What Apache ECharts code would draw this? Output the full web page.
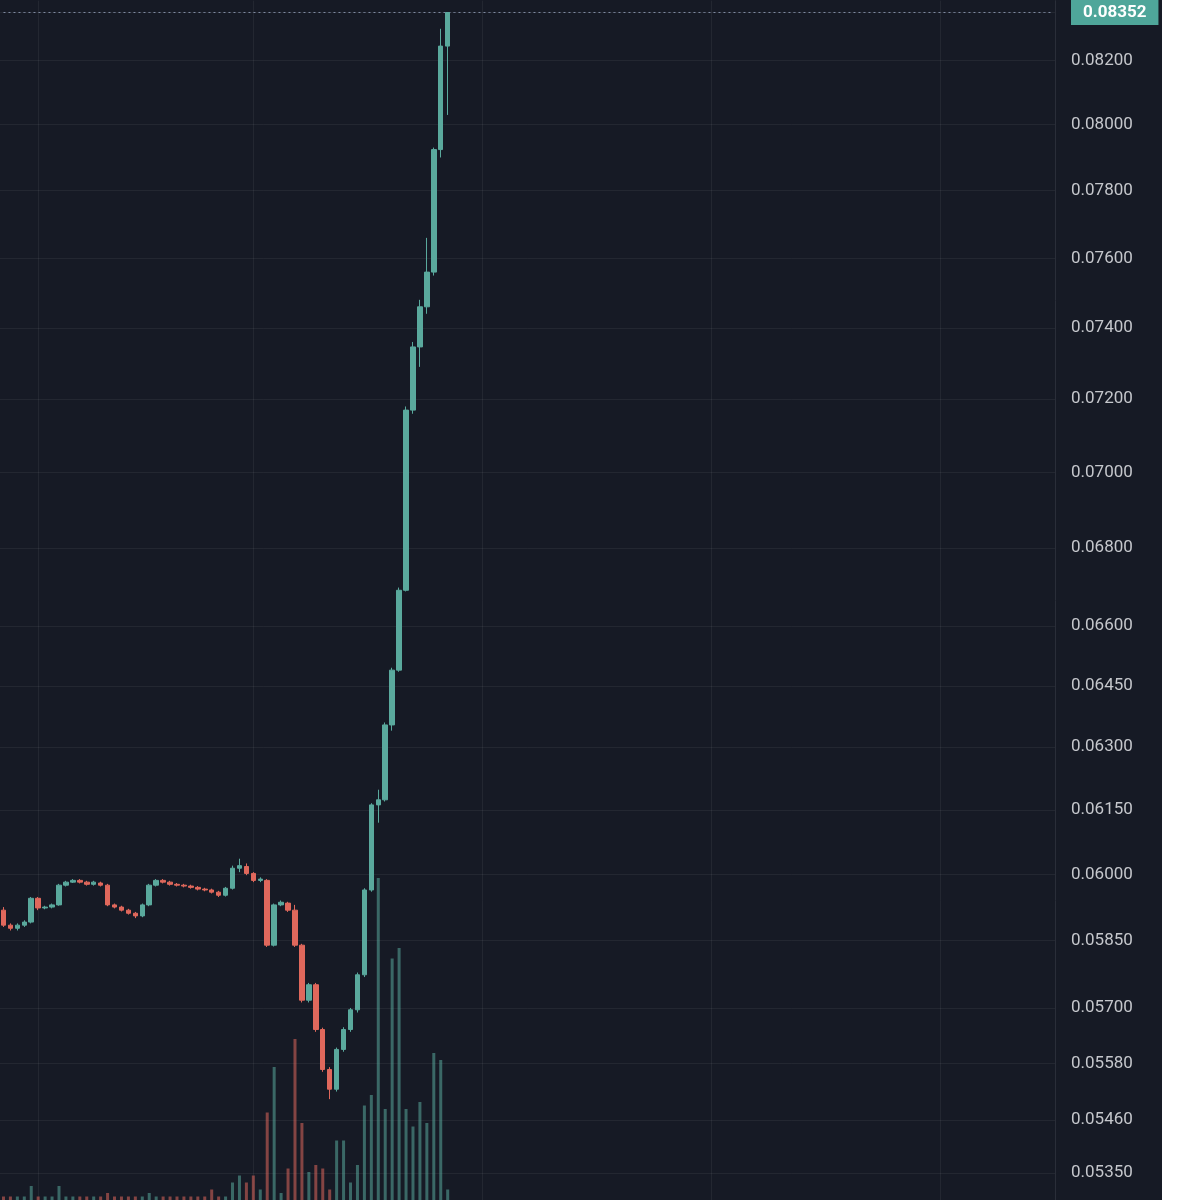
<!DOCTYPE html>
<html>
<head>
<meta charset="utf-8">
<script src="https://cdn.jsdelivr.net/npm/echarts@6/dist/echarts.min.js"></script>
<style>
  html, body { margin: 0; padding: 0; background: #ffffff; }
  #chart { width: 1162px; height: 1200px; background: #161a25; }
</style>
</head>
<body>
<div id="chart"></div>
<script>
// 价格数据 [open, close, low, high]
const candles = [
  [0.05918, 0.05884, 0.05880, 0.05925], [0.05884, 0.05877, 0.05872, 0.05888], [0.05877, 0.05884, 0.05872, 0.05888],
  [0.05884, 0.05891, 0.05880, 0.05895], [0.05891, 0.05945, 0.05888, 0.05948], [0.05945, 0.05923, 0.05918, 0.05948],
  [0.05923, 0.05925, 0.05920, 0.05928], [0.05925, 0.05930, 0.05922, 0.05933], [0.05930, 0.05975, 0.05928, 0.05978],
  [0.05975, 0.05982, 0.05972, 0.05985], [0.05982, 0.05986, 0.05980, 0.05989], [0.05986, 0.05982, 0.05979, 0.05989],
  [0.05982, 0.05977, 0.05974, 0.05985], [0.05977, 0.05982, 0.05974, 0.05985], [0.05980, 0.05975, 0.05972, 0.05983],
  [0.05975, 0.05930, 0.05927, 0.05978], [0.05930, 0.05925, 0.05922, 0.05933], [0.05925, 0.05918, 0.05915, 0.05928],
  [0.05918, 0.05911, 0.05908, 0.05921], [0.05911, 0.05905, 0.05900, 0.05914], [0.05905, 0.05930, 0.05902, 0.05933],
  [0.05930, 0.05975, 0.05927, 0.05978], [0.05975, 0.05986, 0.05972, 0.05989], [0.05986, 0.05982, 0.05979, 0.05989],
  [0.05982, 0.05977, 0.05974, 0.05985], [0.05977, 0.05975, 0.05972, 0.05980], [0.05975, 0.05973, 0.05970, 0.05978],
  [0.05973, 0.05970, 0.05967, 0.05976], [0.05970, 0.05966, 0.05963, 0.05973], [0.05966, 0.05964, 0.05961, 0.05969],
  [0.05964, 0.05959, 0.05956, 0.05967], [0.05959, 0.05952, 0.05948, 0.05962], [0.05952, 0.05968, 0.05949, 0.05971],
  [0.05968, 0.06014, 0.05965, 0.06020], [0.06014, 0.06020, 0.06005, 0.06036], [0.06018, 0.06002, 0.05998, 0.06025],
  [0.06002, 0.05986, 0.05982, 0.06005], [0.05986, 0.05989, 0.05982, 0.05993], [0.05986, 0.05839, 0.05835, 0.05989],
  [0.05839, 0.05930, 0.05836, 0.05933], [0.05930, 0.05936, 0.05927, 0.05940], [0.05934, 0.05918, 0.05914, 0.05937],
  [0.05918, 0.05839, 0.05835, 0.05930], [0.05839, 0.05717, 0.05712, 0.05842], [0.05717, 0.05751, 0.05712, 0.05755],
  [0.05751, 0.05653, 0.05648, 0.05755], [0.05653, 0.05567, 0.05562, 0.05657], [0.05567, 0.05525, 0.05504, 0.05572],
  [0.05525, 0.05610, 0.05520, 0.05614], [0.05610, 0.05653, 0.05605, 0.05658], [0.05653, 0.05696, 0.05648, 0.05700],
  [0.05696, 0.05773, 0.05690, 0.05778], [0.05773, 0.05964, 0.05768, 0.05968], [0.05964, 0.06162, 0.05960, 0.06166],
  [0.06162, 0.06174, 0.06120, 0.06198], [0.06174, 0.06354, 0.06170, 0.06360], [0.06354, 0.06489, 0.06340, 0.06495],
  [0.06489, 0.06691, 0.06485, 0.06698], [0.06691, 0.07170, 0.06688, 0.07180], [0.07170, 0.07346, 0.07160, 0.07360],
  [0.07346, 0.07460, 0.07290, 0.07480], [0.07460, 0.07560, 0.07440, 0.07660], [0.07560, 0.07924, 0.07550, 0.07930],
  [0.07924, 0.08245, 0.07900, 0.08300], [0.08245, 0.08352, 0.08030, 0.08352]
];
const volumes = [
  1, 1, 1, 1, 4, 1, 1, 1, 4, 1, 1, 1, 1, 1, 1, 2, 1, 1, 1, 1, 1, 2, 1, 1, 1, 1, 1, 1, 1, 1,
  3, 1, 1, 5, 7, 5, 7, 3, 25, 38, 2, 9, 46, 22, 8, 10, 9, 3, 17, 17, 5, 10, 27, 30, 92, 26, 69, 72, 26, 21,
  28, 22, 42, 40, 3
];
const priceTicks = [0.082, 0.080, 0.078, 0.076, 0.074, 0.072, 0.070, 0.068, 0.066, 0.0645, 0.063, 0.0615,
  0.060, 0.0585, 0.057, 0.0558, 0.0546, 0.0535];
const lastPrice = 0.08352;
const timeGridIdx = ['5', '36', '69', '102', '135'];
const slotCount = 152;

const categories = [];
for (let i = 0; i < slotCount; i++) categories.push(String(i));

const upColor = '#5aa99d';
const downColor = '#e0685c';

const volData = volumes.map((v, i) => ({
  value: v,
  itemStyle: { color: candles[i][1] >= candles[i][0] ? 'rgba(90,169,157,0.55)' : 'rgba(224,104,92,0.55)' }
}));

const lastLine = categories.map(() => lastPrice);

const chart = echarts.init(document.getElementById('chart'));
chart.setOption({
  animation: false,
  backgroundColor: '#161a25',
  grid: [
    { left: 0, right: 107, top: 0, bottom: 0 },
    { left: 0, right: 107, top: 850, bottom: 0 }
  ],
  xAxis: [
    { type: 'category', data: categories, gridIndex: 0, boundaryGap: true, axisLine: { show: false }, axisTick: { show: false }, axisLabel: { show: false }, splitLine: { show: false } },
    { type: 'category', data: categories, gridIndex: 1, axisLine: { show: false }, axisTick: { show: false }, axisLabel: { show: false }, splitLine: { show: false } }
  ],
  yAxis: [
    {
      type: 'log', logBase: 10, min: 0.05295, max: 0.0839, position: 'right', gridIndex: 0,
      axisLine: { show: true, lineStyle: { color: '#2a2e39' } },
      axisTick: { show: false, customValues: priceTicks.concat([lastPrice]) },
      axisLabel: {
        customValues: priceTicks.concat([lastPrice]),
        margin: 16, color: '#c5c7cc', fontSize: 17, fontFamily: 'Roboto',
        formatter: v => Math.abs(v - lastPrice) < 1e-7 ? '{hl|' + v.toFixed(5) + '}' : v.toFixed(5),
        rich: {
          hl: { color: '#ffffff', backgroundColor: '#4fa69a', padding: [4, 12, 4, 12], fontSize: 17, fontWeight: 'bold', fontFamily: 'Roboto' }
        }
      },
      splitLine: { show: true, lineStyle: { color: 'rgba(255,255,255,0.06)' } }
    },
    {
      type: 'value', min: 0, max: 100, gridIndex: 1,
      axisLine: { show: false }, axisTick: { show: false }, axisLabel: { show: false }, splitLine: { show: false }
    }
  ],
  series: [
    {
      type: 'bar', xAxisIndex: 1, yAxisIndex: 1, data: volData, barWidth: 3, z: 1
    },
    {
      type: 'line', data: lastLine, symbol: 'none', silent: true, z: 2,
      lineStyle: { color: '#7f8aa0', type: [2, 3], width: 1 }
    },
    {
      type: 'candlestick', data: candles, barWidth: 5, z: 3,
      itemStyle: { color: upColor, color0: downColor, borderColor: upColor, borderColor0: downColor },
      markLine: {
        silent: true, symbol: 'none', animation: false, z: 0,
        lineStyle: { color: 'rgba(255,255,255,0.06)', type: 'solid', width: 1 },
        label: { show: false },
        data: timeGridIdx.map(x => ({ xAxis: x }))
      }
    }
  ]
});
</script>
</body>
</html>
